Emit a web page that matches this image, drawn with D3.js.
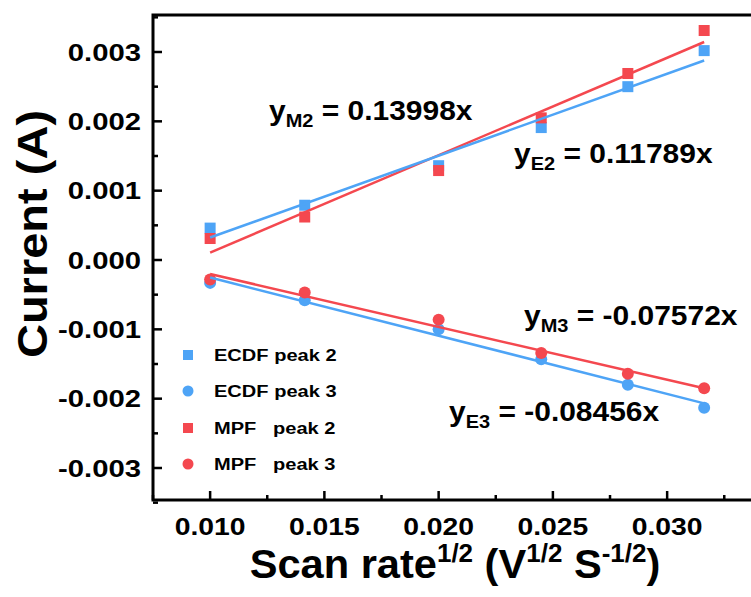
<!DOCTYPE html>
<html>
<head>
<meta charset="utf-8">
<script src="https://cdn.jsdelivr.net/npm/d3@7"></script>
<style>
  body { margin: 0; background: #fff; }
  svg { display: block; }
  text { font-family: "Liberation Sans", Arial, sans-serif; font-weight: bold; fill: #000; }
</style>
</head>
<body>
<div id="chart"></div>
<script>
// square root of scan rate (x) and peak currents (A)
var scanRoot  = [0.0100, 0.01414, 0.0200, 0.02449, 0.02828, 0.03162];
var ecdfPeak2 = [0.00046, 0.00079, 0.00136, 0.00191, 0.00250, 0.00302];
var ecdfPeak3 = [-0.00033, -0.00058, -0.00100, -0.00143, -0.00180, -0.00213];
var mpfPeak2  = [0.00031, 0.00062, 0.00129, 0.00205, 0.00269, 0.00331];
var mpfPeak3  = [-0.00028, -0.00047, -0.00086, -0.00134, -0.00164, -0.00185];

var xTicks      = [0.010, 0.015, 0.020, 0.025, 0.030];
var xTickLabels = ["0.010", "0.015", "0.020", "0.025", "0.030"];
var yTicks      = [-0.003, -0.002, -0.001, 0.000, 0.001, 0.002, 0.003];
var yTickLabels = ["-0.003", "-0.002", "-0.001", "0.000", "0.001", "0.002", "0.003"];

var legendNames = ["ECDF peak 2", "ECDF peak 3", "MPF   peak 2", "MPF   peak 3"];
var eqSubs   = ["M2", "E2", "M3", "E3"];
var eqValues = ["0.13998x", "0.11789x", "-0.07572x", "-0.08456x"];

var W = 751, H = 597;
var blue = '#4ea4f6', red = '#f4484f';

var svg = d3.select('#chart').append('svg').attr('width', W).attr('height', H);

var x = d3.scaleLinear().domain([0.0075, 0.035]).range([153, 781.4]);
var y = d3.scaleLinear().domain([-0.003, 0.003]).range([468, 52]);
var top_y = 15, bottom_y = 500;

// the lettering in the original is wider than plain Arial, so stretch it
function label(g, px, py, anchor, size, sx) {
  return g.append('text')
    .attr('transform', 'translate(' + px + ',' + py + ') scale(' + (sx || 1.18) + ',1)')
    .attr('text-anchor', anchor)
    .style('font-size', size + 'px');
}

// frame
svg.append('rect')
  .attr('x', x(0.0075)).attr('y', top_y)
  .attr('width', x(0.035) - x(0.0075)).attr('height', bottom_y - top_y)
  .attr('fill', 'none').attr('stroke', '#000').attr('stroke-width', 3);

// ticks (inward), minor every half step
var minorX = d3.range(0.0075, 0.0351, 0.0025);
var minorY = d3.range(-0.0035, 0.00351, 0.0005);
var tk = svg.append('g').attr('stroke', '#000').attr('stroke-width', 2.5);
minorX.forEach(function(v) {
  var major = xTicks.some(function(t) { return Math.abs(t - v) < 1e-6; });
  tk.append('line').attr('x1', x(v)).attr('x2', x(v))
    .attr('y1', bottom_y).attr('y2', bottom_y - (major ? 9 : 5));
});
minorY.forEach(function(v) {
  var major = yTicks.some(function(t) { return Math.abs(t - v) < 1e-6; });
  tk.append('line').attr('y1', y(v)).attr('y2', y(v))
    .attr('x1', x(0.0075)).attr('x2', x(0.0075) + (major ? 9 : 5));
});

var lab = svg.append('g');
xTicks.forEach(function(v, i) {
  label(lab, x(v), 535, 'middle', 24).text(xTickLabels[i]);
});
yTicks.forEach(function(v, i) {
  label(lab, 141, y(v) + 8.5, 'end', 24, 1.22).text(yTickLabels[i]);
});

// axis titles
var xt = label(lab, 455, 578, 'middle', 40, 1.04);
xt.append('tspan').text('Scan rate');
xt.append('tspan').attr('dy', -16).style('font-size', '25px').text('1/2');
xt.append('tspan').attr('dy', 16).text(' (V');
xt.append('tspan').attr('dy', -16).style('font-size', '25px').text('1/2');
xt.append('tspan').attr('dy', 16).text(' S');
xt.append('tspan').attr('dy', -16).style('font-size', '25px').text('-1/2');
xt.append('tspan').attr('dy', 16).text(')');

svg.append('text')
  .attr('transform', 'translate(47,234) rotate(-90) scale(1.12,1)')
  .attr('text-anchor', 'middle')
  .style('font-size', '42px')
  .text('Current (A)');

// markers
var sq = 11, cr = 6;
function squares(vals, color) {
  svg.append('g').selectAll('rect').data(vals).enter().append('rect')
    .attr('x', function(d, i) { return x(scanRoot[i]) - sq / 2; })
    .attr('y', function(d) { return y(d) - sq / 2; })
    .attr('width', sq).attr('height', sq).attr('fill', color);
}
function circles(vals, color) {
  svg.append('g').selectAll('circle').data(vals).enter().append('circle')
    .attr('cx', function(d, i) { return x(scanRoot[i]); })
    .attr('cy', function(d) { return y(d); })
    .attr('r', cr).attr('fill', color);
}
squares(ecdfPeak2, blue);
circles(ecdfPeak3, blue);
squares(mpfPeak2, red);
circles(mpfPeak3, red);

// least squares fits
function fit(vals) {
  var mx = d3.mean(scanRoot), my = d3.mean(vals);
  var sxy = d3.sum(scanRoot, function(v, i) { return (v - mx) * (vals[i] - my); });
  var sxx = d3.sum(scanRoot, function(v) { return (v - mx) * (v - mx); });
  var k = sxy / sxx;
  return { k: k, b: my - k * mx };
}
function fitLine(vals, color) {
  var f = fit(vals);
  var x0 = d3.min(scanRoot), x1 = d3.max(scanRoot);
  svg.append('line')
    .attr('x1', x(x0)).attr('y1', y(f.k * x0 + f.b))
    .attr('x2', x(x1)).attr('y2', y(f.k * x1 + f.b))
    .attr('stroke', color).attr('stroke-width', 2.5);
}
fitLine(mpfPeak2, red);
fitLine(ecdfPeak2, blue);
fitLine(ecdfPeak3, blue);
fitLine(mpfPeak3, red);

// equations
var eqPos = [[269, 120], [514, 163], [524, 325], [449, 421]];
eqSubs.forEach(function(s, i) {
  var t = label(svg, eqPos[i][0], eqPos[i][1], 'start', 27, 1.11);
  t.append('tspan').text('y');
  t.append('tspan').attr('dy', 7).style('font-size', '18px').text(s);
  t.append('tspan').attr('dy', -7).text(' = ' + eqValues[i]);
});

// legend
var legY = [355, 391, 428, 464];
var legColor = [blue, blue, red, red];
var legShape = ['square', 'circle', 'square', 'circle'];
var leg = svg.append('g');
legendNames.forEach(function(name, i) {
  if (legShape[i] == 'square') {
    leg.append('rect').attr('x', 188 - 5).attr('y', legY[i] - 5)
      .attr('width', 10).attr('height', 10).attr('fill', legColor[i]);
  } else {
    leg.append('circle').attr('cx', 188).attr('cy', legY[i]).attr('r', 5.5).attr('fill', legColor[i]);
  }
  label(leg, 214, legY[i] + 6, 'start', 17)
    .attr('xml:space', 'preserve').style('white-space', 'pre')
    .text(name);
});
</script>
</body>
</html>
